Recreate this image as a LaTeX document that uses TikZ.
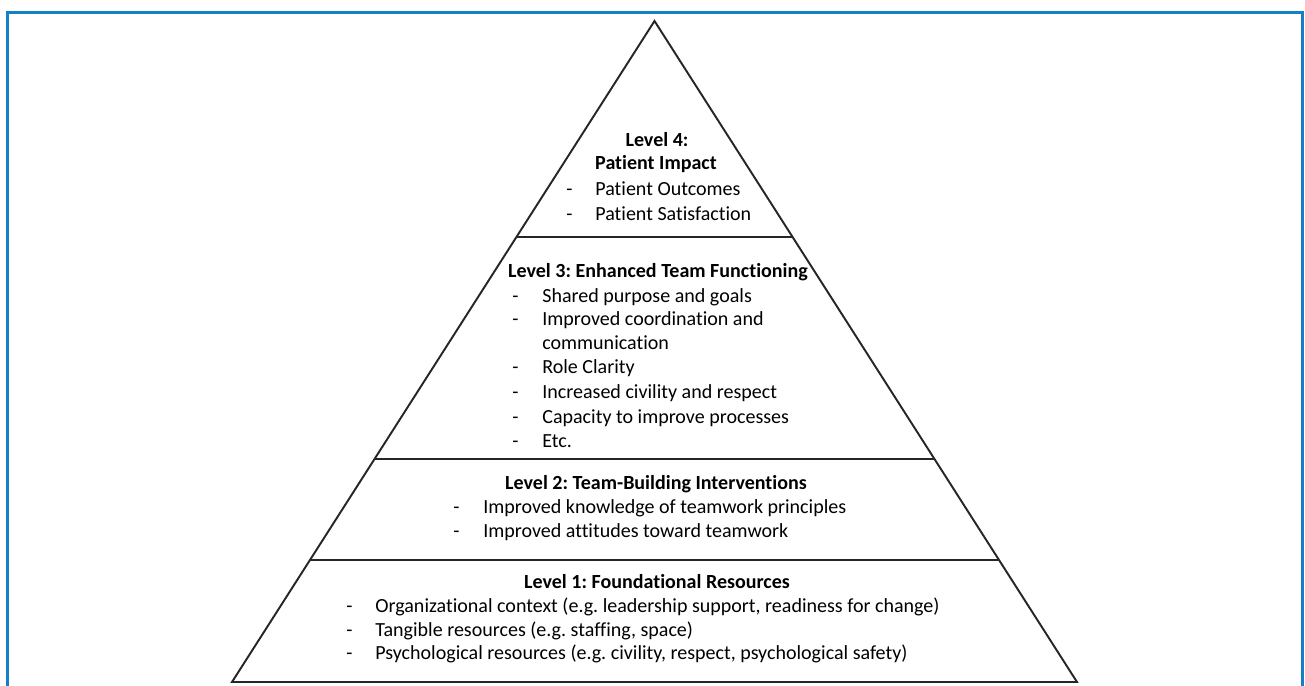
\documentclass[tikz,border=0pt]{standalone}
\usepackage{fontspec}
\setmainfont{Carlito}[Ligatures=NoCommon]
\usepackage{tikz}
\usetikzlibrary{calc}
\definecolor{frameblue}{RGB}{22,128,198}
\tikzset{
  frm/.style={line width=1.8pt,frameblue},
  side/.style={line width=1.1pt,black!85,line join=miter},
  txt/.style={font=\fontsize{11.4}{13}\selectfont\frenchspacing,inner sep=0pt},
  hd/.style={txt,font=\fontsize{11.4}{13}\selectfont\frenchspacing\bfseries,anchor=base},
  it/.style={txt,anchor=base west}
}
\newcommand{\pitem}[5]{\node[it] (#1d) at (#2,#4) {-}; \node[it] (#1) at (#3,#4) {#5};}

\begin{document}
\begin{tikzpicture}[x=0.02cm,y=-0.02cm]
\useasboundingbox (0,0) rectangle (1305,686);
\draw[frm] (7.5,686) -- (7.5,12.5) -- (1302.5,12.5) -- (1302.5,686);
% pyramid
\coordinate (apex) at (654.5,21); \coordinate (bl) at (232,682); \coordinate (br) at (1077,682);
\draw[side] (apex) -- (bl) -- (br) -- cycle;
\draw[side] ($(apex)!0.3268!(bl)$) -- ($(apex)!0.3268!(br)$);
\draw[side] ($(apex)!0.6626!(bl)$) -- ($(apex)!0.6626!(br)$);
\draw[side] ($(apex)!0.8154!(bl)$) -- ($(apex)!0.8154!(br)$);
% level 4
\node[hd] (l4a) at (657,147) {Level 4:};
\node[hd] (l4b) at (656,170) {Patient Impact};
\pitem{l4i1}{566}{595}{195}{Patient Outcomes}
\pitem{l4i2}{566}{595}{220}{Patient Satisfaction}
% level 3
\node[hd] (l3) at (658,277) {Level 3: Enhanced Team Functioning};
\pitem{l3i1}{512}{542}{302}{Shared purpose and goals}
\pitem{l3i2}{512}{542}{325}{Improved coordination and}
\node[it] (l3i2b) at (542,349) {communication};
\pitem{l3i3}{512}{542}{373}{Role Clarity}
\pitem{l3i4}{512}{542}{398}{Increased civility and respect}
\pitem{l3i5}{512}{542}{423}{Capacity to improve processes}
\pitem{l3i6}{512}{542}{447}{Etc.}
% level 2
\node[hd] (l2) at (656,489) {Level 2: Team-Building Interventions};
\pitem{l2i1}{453}{483}{513}{Improved knowledge of teamwork principles}
\pitem{l2i2}{453}{483}{537}{Improved attitudes toward teamwork}
% level 1
\node[hd] (l1) at (657,588) {Level 1: Foundational Resources};
\pitem{l1i1}{346}{375}{612}{Organizational context (e.g. leadership support, readiness for change)}
\pitem{l1i2}{346}{375}{636}{Tangible resources (e.g. staffing, space)}
\pitem{l1i3}{346}{375}{659}{Psychological resources (e.g. civility, respect, psychological safety)}
\end{tikzpicture}
\end{document}
